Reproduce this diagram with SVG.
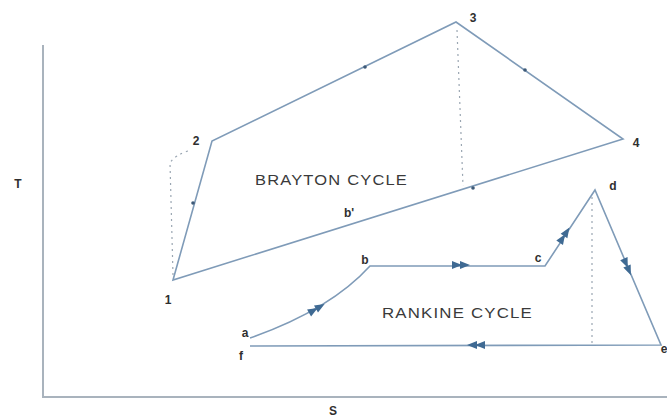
<svg xmlns="http://www.w3.org/2000/svg" width="667" height="418" viewBox="0 0 667 418">
<defs>
<style>
.ax{stroke:#a9b3bd;stroke-width:2;fill:none}
.ln{stroke:#7f9bb8;stroke-width:1.6;fill:none}
.dt{stroke:#9aa6b2;stroke-width:1.2;fill:none;stroke-dasharray:2 4}
.lb{font-family:"Liberation Sans",Arial,sans-serif;font-size:12px;font-weight:bold;fill:#2f2f2f;text-anchor:middle;dominant-baseline:central}
.tt{font-family:"Liberation Sans",Arial,sans-serif;font-size:14px;fill:#3a3a3a;letter-spacing:1px}
.dot{fill:#3e5a78}
.ar{fill:#3f6a93}
</style>
</defs>
<rect width="667" height="418" fill="#ffffff"/>
<g id="axes">
<path class="ax" d="M43 45 V397 H667"/>
<text class="lb" x="18" y="184">T</text>
<text class="lb" x="333" y="411">S</text>
</g>
<g id="connectors">
<path class="ln" d="M173 280 L212 141 L456 22 L623 139 Z"/>
<path class="dt" d="M173 275 L170 163 Q175 155 188 151"/>
<path class="dt" d="M457 30 L463 186"/>
<path class="ln" d="M250 338 Q330 310 370 266 L545 266 L595 190 L661 345 L250 346"/>
<path class="dt" d="M592 197 V343"/>
<circle class="dot" cx="193" cy="203" r="1.8"/>
<circle class="dot" cx="365" cy="67" r="1.8"/>
<circle class="dot" cx="525" cy="70" r="1.8"/>
<circle class="dot" cx="473" cy="188" r="1.8"/>
<g class="ar">
<path transform="translate(460 265)" d="M-8 -4 L2 0 L-8 4 Z M0 -4 L10 0 L0 4 Z"/>
<path transform="translate(477 345) rotate(180)" d="M-8 -4 L2 0 L-8 4 Z M0 -4 L10 0 L0 4 Z"/>
<path transform="translate(316 309) rotate(-30)" d="M-8 -4 L2 0 L-8 4 Z M0 -4 L10 0 L0 4 Z"/>
<path transform="translate(564 236) rotate(-57)" d="M-8 -4 L2 0 L-8 4 Z M0 -4 L10 0 L0 4 Z"/>
<path transform="translate(627 266) rotate(67)" d="M-8 -4 L2 0 L-8 4 Z M0 -4 L10 0 L0 4 Z"/>
</g>
</g>
<g id="brayton">
<text class="tt" x="255" y="185" textLength="153" lengthAdjust="spacingAndGlyphs">BRAYTON CYCLE</text>
<text class="lb" x="168" y="300">1</text>
<text class="lb" x="196" y="141">2</text>
<text class="lb" x="473" y="18">3</text>
<text class="lb" x="636" y="143">4</text>
<text class="lb" x="349" y="213">b'</text>
</g>
<g id="rankine">
<text class="tt" x="382" y="318" textLength="151" lengthAdjust="spacingAndGlyphs">RANKINE CYCLE</text>
<text class="lb" x="245" y="333">a</text>
<text class="lb" x="365" y="260">b</text>
<text class="lb" x="538" y="258">c</text>
<text class="lb" x="613" y="186">d</text>
<text class="lb" x="664" y="349">e</text>
<text class="lb" x="241" y="356">f</text>
</g>
</svg>
